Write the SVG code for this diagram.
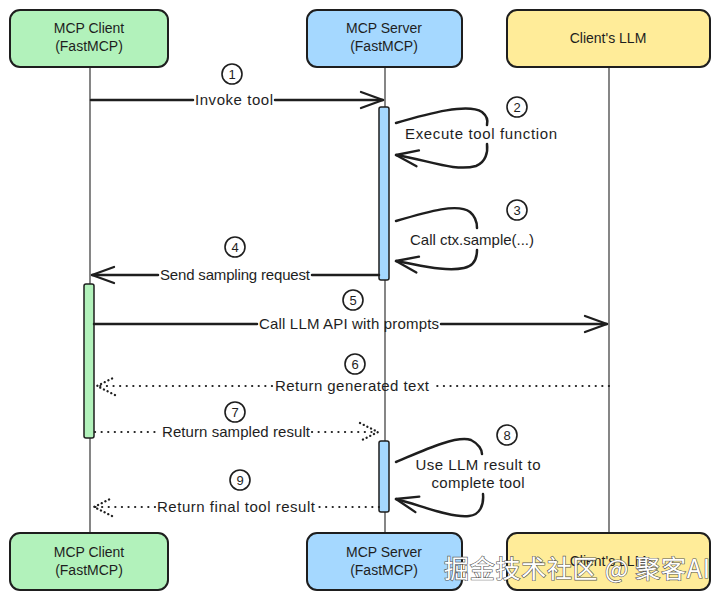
<svg xmlns="http://www.w3.org/2000/svg" width="720" height="600" viewBox="0 0 720 600">
<defs>
<style>
.box{stroke:#1e1e1e;stroke-width:2}
.green{fill:#b2f2bb}.blue{fill:#a5d8ff}.yellow{fill:#ffec99}
.t{font-family:"Liberation Sans",Arial,sans-serif;font-size:14px;fill:#1e1e1e;text-anchor:middle}
.lbl{font-family:"Liberation Sans",Arial,sans-serif;font-size:15px;fill:#1e1e1e;text-anchor:middle}
.life{stroke:#444;stroke-width:1.3;fill:none}
.solid{stroke:#1e1e1e;stroke-width:2.5;fill:none;stroke-linecap:round}
.dot{stroke:#1e1e1e;stroke-width:2.2;fill:none;stroke-linecap:round;stroke-dasharray:0.1 6.5}
.num{fill:#fff;stroke:#1e1e1e;stroke-width:1.6}
.numt{font-family:"Liberation Sans",Arial,sans-serif;font-size:13px;fill:#1e1e1e;text-anchor:middle}
.bar{stroke:#1e1e1e;stroke-width:1.5}
</style>
<marker id="ah" markerUnits="userSpaceOnUse" markerWidth="26" markerHeight="20" viewBox="-2 -2 26 20" refX="22" refY="8" orient="auto">
<path d="M0,0 L22,8 L0,16" fill="none" stroke="#1e1e1e" stroke-width="2.3" stroke-linecap="round" stroke-linejoin="round"/>
</marker>
<marker id="ahd" markerUnits="userSpaceOnUse" markerWidth="24" markerHeight="22" viewBox="-2 -2 24 22" refX="18" refY="9" orient="auto">
<path d="M0,0 L18,9 L0,18" fill="none" stroke="#1e1e1e" stroke-width="2.3" stroke-linecap="round" stroke-dasharray="0.1 4"/>
</marker>
</defs>
<rect width="720" height="600" fill="#fff"/>

<g id="lifelines">
<line class="life" x1="90" y1="67" x2="90" y2="533"/>
<line class="life" x1="385" y1="67" x2="385" y2="533"/>
<line class="life" x1="609" y1="67" x2="609" y2="533"/>
</g>

<g id="client-top"><rect class="box green" x="10" y="10" width="158" height="57" rx="10"/><text class="t" x="89" y="33">MCP Client</text><text class="t" x="89" y="51">(FastMCP)</text></g>
<g id="server-top"><rect class="box blue" x="307" y="10" width="155" height="57" rx="10"/><text class="t" x="384" y="33">MCP Server</text><text class="t" x="384" y="51">(FastMCP)</text></g>
<g id="llm-top"><rect class="box yellow" x="507" y="10" width="203" height="57" rx="10"/><text class="t" x="608" y="43">Client's LLM</text></g>

<g id="client-bottom"><rect class="box green" x="10" y="533" width="158" height="57" rx="10"/><text class="t" x="89" y="557">MCP Client</text><text class="t" x="89" y="575">(FastMCP)</text></g>
<g id="server-bottom"><rect class="box blue" x="307" y="533" width="155" height="57" rx="10"/><text class="t" x="384" y="557">MCP Server</text><text class="t" x="384" y="575">(FastMCP)</text></g>
<g id="llm-bottom"><rect class="box yellow" x="507" y="533" width="203" height="57" rx="10"/><text class="t" x="608" y="566">Client's LLM</text></g>

<g id="activations">
<rect class="bar blue" x="379" y="107" width="10" height="173" rx="2"/>
<rect class="bar green" x="84" y="284" width="10" height="154" rx="2"/>
<rect class="bar blue" x="379" y="441" width="10" height="71" rx="2"/>
</g>

<g id="connectors">
<line class="solid" x1="91" y1="100" x2="193" y2="100"/>
<line class="solid" x1="275" y1="100" x2="383" y2="100" marker-end="url(#ah)"/>
<text class="lbl" x="234" y="105" textLength="78">Invoke tool</text>

<path class="solid" d="M396,123 C430,113 468,103 482,112 C487,116 488,121 487,125"/>
<path class="solid" d="M487,144 C488,152 486,162 476,166 C455,172 428,160 396,155" marker-end="url(#ah)"/>
<text class="lbl" x="481" y="139" textLength="152">Execute tool function</text>

<path class="solid" d="M396,221 C430,211 458,203 470,212 C476,217 477,224 477,228"/>
<path class="solid" d="M477,250 C477,258 474,266 464,268 C445,272 420,265 396,261" marker-end="url(#ah)"/>
<text class="lbl" x="472" y="245" textLength="124">Call ctx.sample(...)</text>

<line class="solid" x1="379" y1="275" x2="312" y2="275"/>
<line class="solid" x1="158" y1="275" x2="92" y2="275" marker-end="url(#ah)"/>
<text class="lbl" x="235" y="280" textLength="150">Send sampling request</text>

<line class="solid" x1="94" y1="324" x2="257" y2="324"/>
<line class="solid" x1="441" y1="324" x2="607" y2="324" marker-end="url(#ah)"/>
<text class="lbl" x="349" y="329" textLength="180">Call LLM API with prompts</text>

<line class="dot" x1="609" y1="386" x2="432" y2="386"/>
<line class="dot" x1="272" y1="386" x2="97" y2="386" marker-end="url(#ahd)"/>
<text class="lbl" x="352" y="391" textLength="154">Return generated text</text>

<line class="dot" x1="95" y1="432" x2="160" y2="432"/>
<line class="dot" x1="312" y1="432" x2="378" y2="432" marker-end="url(#ahd)"/>
<text class="lbl" x="236" y="437" textLength="148">Return sampled result</text>

<path class="solid" d="M396,462 C420,452 455,435 471,440 C479,444 482,450 482,454"/>
<path class="solid" d="M483,494 C484,505 480,515 469,516 C450,518 420,505 396,499" marker-end="url(#ah)"/>
<text class="lbl" x="478" y="470" textLength="125">Use LLM result to</text>
<text class="lbl" x="478" y="488" textLength="93">complete tool</text>

<line class="dot" x1="379" y1="507" x2="317" y2="507"/>
<line class="dot" x1="155" y1="507" x2="94" y2="507" marker-end="url(#ahd)"/>
<text class="lbl" x="236" y="512" textLength="158">Return final tool result</text>
</g>

<g id="step-numbers">
<circle class="num" cx="232" cy="74" r="10"/><text class="numt" x="232" y="78.5">1</text>
<circle class="num" cx="517" cy="107" r="10"/><text class="numt" x="517" y="111.5">2</text>
<circle class="num" cx="517" cy="210" r="10"/><text class="numt" x="517" y="214.5">3</text>
<circle class="num" cx="235" cy="247" r="10"/><text class="numt" x="235" y="251.5">4</text>
<circle class="num" cx="353" cy="300" r="10"/><text class="numt" x="353" y="304.5">5</text>
<circle class="num" cx="355" cy="364" r="10"/><text class="numt" x="355" y="368.5">6</text>
<circle class="num" cx="235" cy="412" r="10"/><text class="numt" x="235" y="416.5">7</text>
<circle class="num" cx="507" cy="435" r="10"/><text class="numt" x="507" y="439.5">8</text>
<circle class="num" cx="240" cy="480" r="10"/><text class="numt" x="240" y="484.5">9</text>
</g>

<text x="444" y="578" textLength="266" font-family="'Noto Sans CJK SC',sans-serif" font-size="25" fill="#fff" stroke="#555" stroke-width="1.2" paint-order="stroke">掘金技术社区 @ 聚客AI</text>
</svg>
